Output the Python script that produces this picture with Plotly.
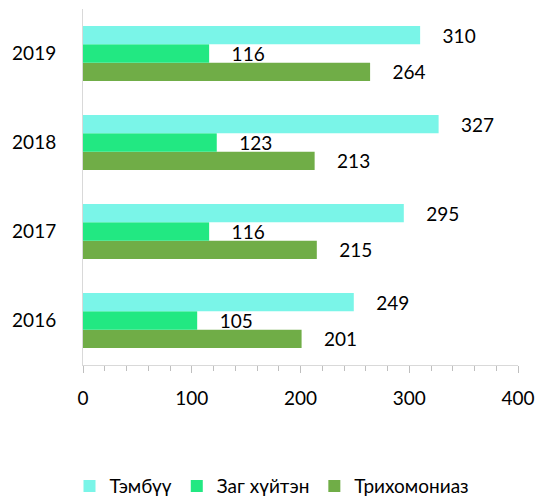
import plotly.graph_objects as go

years = ["2016", "2017", "2018", "2019"]
tembuu = [249, 295, 327, 310]
zag_khuiten = [105, 116, 123, 116]
trikhomoniaz = [201, 215, 213, 264]

series = [
    ("Трихомониаз", trikhomoniaz, "#70AD47"),
    ("Заг хүйтэн", zag_khuiten, "#22E882"),
    ("Тэмбүү", tembuu, "#7AF5E8"),
]

font_family = "Lato, 'Open Sans', sans-serif"
FS = 19

fig = go.Figure()
for name, vals, color in series:
    fig.add_trace(go.Bar(
        y=years, x=vals, name=name, orientation="h",
        marker=dict(color=color, line=dict(width=0)),
        text=["\u00a0\u00a0\u00a0\u00a0" + str(v) for v in vals],
        textposition="outside", constraintext="none",
        textfont=dict(size=FS, color="black", family=font_family),
        cliponaxis=False,
    ))

fig.update_layout(
    barmode="group",
    bargap=0.38,
    bargroupgap=0.0,
    width=544, height=497,
    margin=dict(l=83, r=21, t=9, b=132),
    plot_bgcolor="white", paper_bgcolor="white",
    font=dict(family=font_family, size=FS, color="black"),
    legend=dict(
        orientation="h", traceorder="reversed",
        xref="container", yref="container",
        x=0.5, xanchor="center", y=0.022, yanchor="middle",
        font=dict(size=FS, color="black"),
        itemwidth=30,
    ),
)

fig.update_xaxes(
    range=[0, 400], dtick=100, tick0=0,
    showgrid=False, zeroline=False,
    showline=True, linecolor="#D9D9D9", linewidth=1,
    ticks="outside", ticklen=7, tickcolor="#BFBFBF",
    ticklabelstandoff=9,
    minor=dict(dtick=20, ticks="outside", ticklen=5, tickcolor="#BFBFBF", showgrid=False),
    tickfont=dict(size=FS, color="black"),
)
fig.update_yaxes(
    type="category", categoryorder="array", categoryarray=years,
    showgrid=False, zeroline=False,
    showline=True, linecolor="#D9D9D9", linewidth=1,
    ticks="", ticklabelstandoff=22,
    tickfont=dict(size=FS, color="black"),
)

fig.write_html("out.html")
